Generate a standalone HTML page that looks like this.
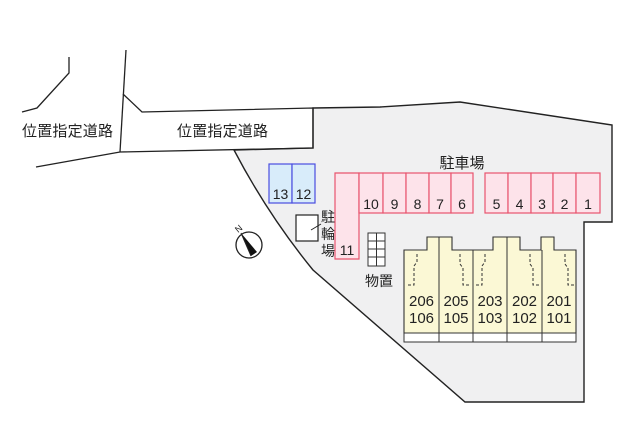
<!DOCTYPE html>
<html><head><meta charset="utf-8"><style>
body{margin:0;background:#fff;}
svg{display:block;}
text{font-family:"Liberation Sans","Noto Sans CJK JP",sans-serif;fill:#222;}
</style></head><body>
<svg width="622" height="438" viewBox="0 0 622 438" xmlns="http://www.w3.org/2000/svg">
<path d="M313,108 L380,107 L460,102 L612,125 L612,222 L584,222 L584,402 L465,402 L313,270 Q268,215 234,150 L313,148 Z" fill="#f0f0f1" stroke="#222" stroke-width="1.4"/>
<path d="M126,50 L120,152" fill="none" stroke="#222" stroke-width="1.3"/>
<path d="M123,94 L142,112 L313,108 L313,148 L120,152 L36,167" fill="none" stroke="#222" stroke-width="1.3"/>
<path d="M69,57 L69,73 L37,108 L22,112" fill="none" stroke="#222" stroke-width="1.3"/>
<text x="22" y="136" font-size="15" textLength="91">位置指定道路</text>
<text x="177" y="136" font-size="15" textLength="91">位置指定道路</text>
<rect x="269" y="164" width="23" height="39" fill="#d8ecfa" stroke="#4a4ee0" stroke-width="1.2"/>
<rect x="292" y="164" width="23" height="39" fill="#d8ecfa" stroke="#4a4ee0" stroke-width="1.2"/>
<text x="280.5" y="199" font-size="14" text-anchor="middle">13</text>
<text x="303.5" y="199" font-size="14" text-anchor="middle">12</text>
<g fill="#fde3ea" stroke="#e8546e" stroke-width="1.2">
<path d="M335,173 L359,173 L359,259 L335,259 Z"/>
<rect x="359" y="173" width="24" height="40"/>
<rect x="383" y="173" width="23" height="40"/>
<rect x="406" y="173" width="23" height="40"/>
<rect x="429" y="173" width="22" height="40"/>
<rect x="451" y="173" width="22" height="40"/>
<rect x="485" y="173" width="23" height="40"/>
<rect x="508" y="173" width="23" height="40"/>
<rect x="531" y="173" width="22" height="40"/>
<rect x="553" y="173" width="23" height="40"/>
<rect x="576" y="173" width="24" height="40"/>
</g>
<g font-size="14" text-anchor="middle">
<text x="347" y="255">11</text>
<text x="371" y="209">10</text><text x="394.5" y="209">9</text><text x="417.5" y="209">8</text><text x="440" y="209">7</text><text x="462" y="209">6</text>
<text x="496.5" y="209">5</text><text x="519.5" y="209">4</text><text x="542" y="209">3</text><text x="564.5" y="209">2</text><text x="588" y="209">1</text>
</g>
<text x="462" y="168" font-size="15" text-anchor="middle">駐車場</text>
<rect x="296" y="215" width="22" height="26" fill="#fff" stroke="#222" stroke-width="1.2"/>
<path d="M311,230 L321,224" stroke="#222" stroke-width="1"/>
<text x="328" y="222" font-size="14" text-anchor="middle">駐</text>
<text x="328" y="239" font-size="14" text-anchor="middle">輪</text>
<text x="328" y="256" font-size="14" text-anchor="middle">場</text>
<g stroke="#333" stroke-width="1" fill="#fff">
<rect x="368" y="233" width="17" height="33"/>
<path d="M376.5,233 V266 M368,241 H385 M368,249 H385 M368,257 H385" fill="none"/>
</g>
<text x="379" y="286" font-size="14" text-anchor="middle">物置</text>
<rect x="404" y="333" width="172" height="9" fill="#fff" stroke="#333" stroke-width="1"/>
<path d="M404,250 L427,250 L427,237 L452,237 L452,250 L493,250 L493,237 L520,237 L520,250 L541,250 L541,237 L554,237 L554,250 L576,250 L576,333 L404,333 Z" fill="#fbf8d5" stroke="#333" stroke-width="1.1"/>
<g stroke="#333" stroke-width="1">
<path d="M439,237 V342 M473,250 V342 M507,237 V342 M542,250 V342"/>
</g>
<g stroke="#333" stroke-width="1" fill="none" stroke-dasharray="3,2">
<path d="M417,254 V262 L414,266 V285 H408"/>
<path d="M460,254 V264 L463,268 V285 H471"/>
<path d="M485,254 V262 L482,266 V285 H475"/>
<path d="M530,254 V264 L533,268 V285 H540"/>
<path d="M565,254 V264 L568,268 V285 H575"/>
</g>
<g font-size="15" text-anchor="middle">
<text x="421.5" y="306">206</text><text x="421.5" y="323">106</text>
<text x="456" y="306">205</text><text x="456" y="323">105</text>
<text x="490" y="306">203</text><text x="490" y="323">103</text>
<text x="524.5" y="306">202</text><text x="524.5" y="323">102</text>
<text x="559" y="306">201</text><text x="559" y="323">101</text>
</g>
<circle cx="249" cy="245" r="13" fill="#fff" stroke="#222" stroke-width="1.3"/>
<path d="M241,233 L257,252 L251,256 Z" fill="#111"/>
<path d="M241,233 L251,256" stroke="#222" stroke-width="1"/>
<text x="238" y="232" font-size="9" transform="rotate(-40 238 228)" text-anchor="middle">N</text>
</svg>
</body></html>
